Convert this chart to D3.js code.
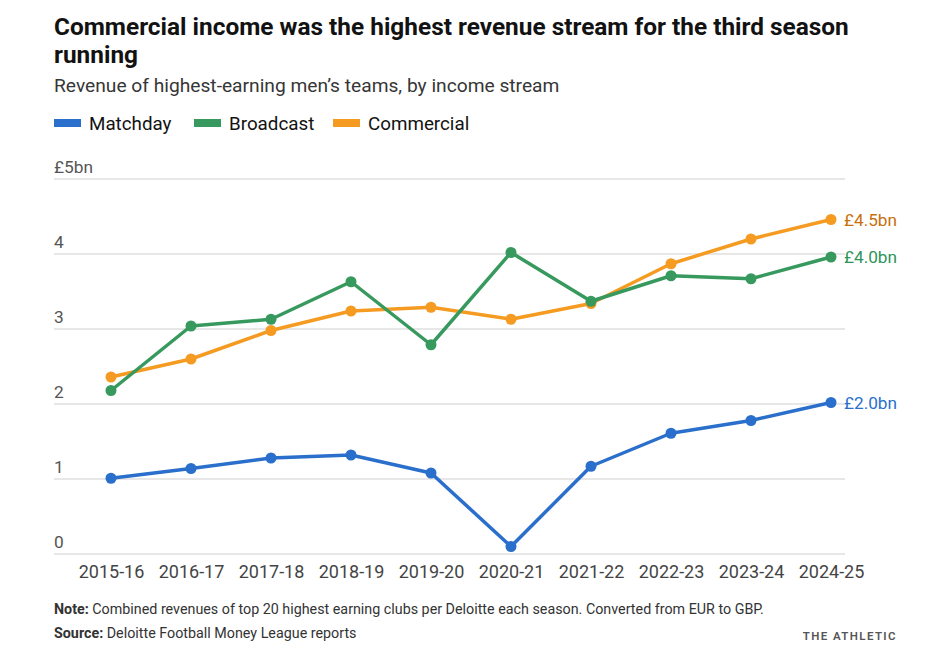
<!DOCTYPE html>
<html>
<head>
<meta charset="utf-8">
<script src="https://cdn.jsdelivr.net/npm/d3@7"></script>
<style>
  html, body { margin: 0; padding: 0; background: #fff; }
  svg { display: block; }
</style>
</head>
<body>
<svg id="chart" width="951" height="670"></svg>
<script>
const seasons = ["2015-16","2016-17","2017-18","2018-19","2019-20","2020-21","2021-22","2022-23","2023-24","2024-25"];
const matchday   = [1.01, 1.14, 1.28, 1.32, 1.08, 0.10, 1.17, 1.61, 1.78, 2.02];
const broadcast  = [2.18, 3.04, 3.13, 3.63, 2.79, 4.02, 3.37, 3.71, 3.67, 3.96];
const commercial = [2.36, 2.60, 2.98, 3.24, 3.29, 3.13, 3.34, 3.87, 4.20, 4.46];
const seriesNames = ["Matchday", "Broadcast", "Commercial"];
const endLabels = ["£2.0bn", "£4.0bn", "£4.5bn"];
const yTicks = [0, 1, 2, 3, 4, 5];
const yTickLabels = ["0", "1", "2", "3", "4", "£5bn"];

const colors = {Matchday: "#2a6fcb", Broadcast: "#37995e", Commercial: "#f59b22"};
const labelColors = {Matchday: "#2a6fcb", Broadcast: "#2e9458", Commercial: "#c96f0c"};

const series = [
  {name: "Matchday", values: matchday, label: endLabels[0]},
  {name: "Broadcast", values: broadcast, label: endLabels[1]},
  {name: "Commercial", values: commercial, label: endLabels[2]}
];

const svg = d3.select("#chart");
const font = "Roboto, 'Helvetica Neue', Arial, sans-serif";

// Title
svg.append("text").attr("x", 54).attr("y", 35)
  .attr("font-family", font).attr("font-weight", 700).attr("font-size", 24.4).attr("fill", "#121212")
  .text("Commercial income was the highest revenue stream for the third season");
svg.append("text").attr("x", 54).attr("y", 63)
  .attr("font-family", font).attr("font-weight", 700).attr("font-size", 24.4).attr("fill", "#121212")
  .text("running");
svg.append("text").attr("x", 54).attr("y", 92)
  .attr("font-family", font).attr("font-size", 19.2).attr("fill", "#363636")
  .text("Revenue of highest-earning men\u2019s teams, by income stream");

// Legend
const legendX = [54, 194, 333];
seriesNames.forEach((n, i) => {
  const g = svg.append("g").attr("transform", `translate(${legendX[i]},123)`);
  g.append("rect").attr("x", 0).attr("y", -4).attr("width", 27).attr("height", 8).attr("fill", colors[n]);
  g.append("text").attr("x", 35).attr("y", 7)
    .attr("font-family", font).attr("font-size", 18.8).attr("fill", "#121212").text(n);
});

// Scales
const x = d3.scalePoint().domain(seasons).range([111, 831]);
const y = d3.scaleLinear().domain([0, 5]).range([554, 179]);

// Gridlines
const grid = svg.append("g");
grid.selectAll("line").data(yTicks).join("line")
  .attr("x1", 54).attr("x2", 845)
  .attr("y1", d => y(d)).attr("y2", d => y(d))
  .attr("stroke", "#cfcfcf").attr("stroke-width", 1.2);
grid.selectAll("text").data(yTicks).join("text")
  .attr("x", 54).attr("y", d => y(d) - 6.5)
  .attr("font-family", font).attr("font-size", 17.3).attr("fill", "#555")
  .text((d, i) => yTickLabels[i]);

// X axis
const xAxis = svg.append("g").attr("transform", "translate(0,554)")
  .call(d3.axisBottom(x).tickSize(0).tickPadding(11));
xAxis.select(".domain").remove();
xAxis.selectAll("text").attr("font-family", font).attr("font-size", 18).attr("fill", "#444");

// Lines
const line = d3.line().x((d, i) => x(seasons[i])).y(d => y(d));
const drawOrder = [series[0], series[2], series[1]];
drawOrder.forEach(s => {
  const g = svg.append("g");
  g.append("path").datum(s.values).attr("d", line)
    .attr("fill", "none").attr("stroke", colors[s.name]).attr("stroke-width", 3.5)
    .attr("stroke-linejoin", "round");
  g.selectAll("circle").data(s.values).join("circle")
    .attr("cx", (d, i) => x(seasons[i])).attr("cy", d => y(d)).attr("r", 5.5)
    .attr("fill", colors[s.name]);
});

// End labels
series.forEach(s => {
  const last = s.values[s.values.length - 1];
  svg.append("text").attr("x", x(seasons[seasons.length - 1]) + 13).attr("y", y(last) + 6)
    .attr("font-family", font).attr("font-size", 17.2).attr("fill", labelColors[s.name])
    .text(s.label);
});

// Footer
const note = svg.append("text").attr("x", 54).attr("y", 614)
  .attr("font-family", font).attr("font-size", 14.3).attr("fill", "#333");
note.append("tspan").attr("font-weight", 700).text("Note:");
note.append("tspan").text(" Combined revenues of top 20 highest earning clubs per Deloitte each season. Converted from EUR to GBP.");
const src = svg.append("text").attr("x", 54).attr("y", 638)
  .attr("font-family", font).attr("font-size", 14.3).attr("fill", "#333");
src.append("tspan").attr("font-weight", 700).text("Source:");
src.append("tspan").text(" Deloitte Football Money League reports");
svg.append("text").attr("x", 897).attr("y", 640).attr("text-anchor", "end")
  .attr("font-family", font).attr("font-weight", 600).attr("font-size", 11.5).attr("letter-spacing", 1.4).attr("fill", "#555")
  .text("THE ATHLETIC");
</script>
</body>
</html>
